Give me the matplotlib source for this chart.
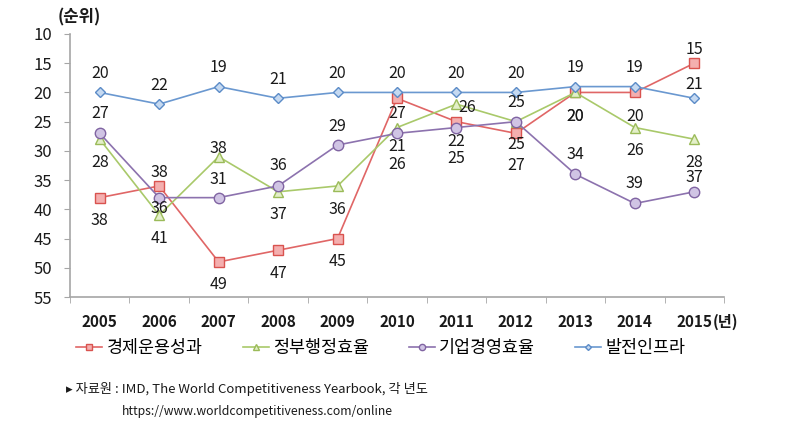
import matplotlib
matplotlib.use("Agg")
import matplotlib.pyplot as plt
from matplotlib.ticker import MultipleLocator, FixedLocator

plt.rcParams['font.family'] = ['Noto Sans CJK KR', 'DejaVu Sans']

years = [2005, 2006, 2007, 2008, 2009, 2010, 2011, 2012, 2013, 2014, 2015]
economy = [38, 36, 49, 47, 45, 21, 25, 27, 20, 20, 15]      # 경제운용성과
government = [28, 41, 31, 37, 36, 26, 22, 25, 20, 26, 28]   # 정부행정효율
business = [27, 38, 38, 36, 29, 27, 26, 25, 34, 39, 37]     # 기업경영효율
infra = [20, 22, 19, 21, 20, 20, 20, 20, 19, 19, 21]        # 발전인프라
series_names = ['경제운용성과', '정부행정효율', '기업경영효율', '발전인프라']

# label offsets in pixels (up is positive), copied from the original layout
red_dy = [-23, -23, -23, -23, -23, -48, -37, -32, -24, -24, 14]
green_dy = [-23, -23, -23, -23, -24, -37, -37, -23, -24, -23, -23]
purple_dy = [20, 25, 49, 20, 19, 20, 20, 19, 20, 20, 14]
purple_dx = [0, 0, 0, 0, 0, 0, 11, 0, 0, 0, 0]
blue_dy = [19, 19, 19, 19, 19, 19, 19, 19, 19, 19, 14]

styles = [
    dict(color='#E06666', marker='s', mfc='#F4AFAF', mec='#D9534F', ms=7),
    dict(color='#A9C96A', marker='^', mfc='#E3EFC8', mec='#9BBB59', ms=7.5),
    dict(color='#8C72AE', marker='o', mfc='#D0C4E4', mec='#8064A2', ms=7.5),
    dict(color='#6A98D0', marker='D', mfc='#C5D9F1', mec='#5B8BC7', ms=5),
]

fig = plt.figure(figsize=(7.87, 4.30), dpi=100)
ax = fig.add_axes([70 / 787, 1 - 297 / 430, 654 / 787, 263 / 430])

all_series = [economy, government, business, infra]
for vals, name, st in zip(all_series, series_names, styles):
    ax.plot(years, vals, lw=1.2, label=name, mew=1.0, **st)

offsets = [
    (None, red_dy),
    (None, green_dy),
    (purple_dx, purple_dy),
    (None, blue_dy),
]
for vals, (dxs, dys) in zip(all_series, offsets):
    for i, (x, v) in enumerate(zip(years, vals)):
        dx = dxs[i] if dxs else 0
        ax.annotate(str(v), (x, v), xytext=(dx, dys[i]), textcoords='offset pixels',
                    ha='center', va='center', fontsize=11.5, color='#1a1a1a')

ax.set_xlim(2004.5, 2015.5)
ax.set_ylim(55, 10)
ax.yaxis.set_major_locator(MultipleLocator(5))
ax.xaxis.set_major_locator(FixedLocator(years))
ax.xaxis.set_minor_locator(FixedLocator([y - 0.5 for y in years] + [2015.5]))
ax.set_xticklabels([str(y) for y in years], fontweight='bold', fontsize=11)
ax.tick_params(axis='x', which='major', length=0, pad=12, colors='#1a1a1a')
ax.tick_params(axis='x', which='minor', length=4, color='#A6A6A6', direction='out')
ax.tick_params(axis='y', length=4, color='#A6A6A6', pad=9, labelsize=12, labelcolor='#1a1a1a')

for side in ['top', 'right']:
    ax.spines[side].set_visible(False)
for side in ['left', 'bottom']:
    ax.spines[side].set_color('#A6A6A6')
    ax.spines[side].set_linewidth(1.2)

fig.text(58 / 787, 1 - 17 / 430, '(순위)', fontsize=12, fontweight='bold',
         ha='left', va='center', color='#1a1a1a')
fig.text(713 / 787, 1 - 322 / 430, '(년)', fontsize=11, fontweight='bold',
         ha='left', va='center', color='#1a1a1a')

fig.legend(loc='center', bbox_to_anchor=(381 / 787, 1 - 348 / 430), ncol=4,
           frameon=False, fontsize=12.5, handlelength=1.5, handletextpad=0.25,
           columnspacing=2.3, markerscale=0.6)

foot_family = ['Noto Sans CJK KR', 'DejaVu Sans']
fig.text(66 / 787, 1 - 389 / 430, '▸ 자료원 : IMD, The World Competitiveness Yearbook, 각 년도',
         fontsize=9.5, family=foot_family, ha='left', va='center', color='#1a1a1a')
fig.text(122 / 787, 1 - 411 / 430, 'https://www.worldcompetitiveness.com/online',
         fontsize=8.8, family=foot_family, ha='left', va='center', color='#1a1a1a')

fig.savefig('out.png', dpi=100)
